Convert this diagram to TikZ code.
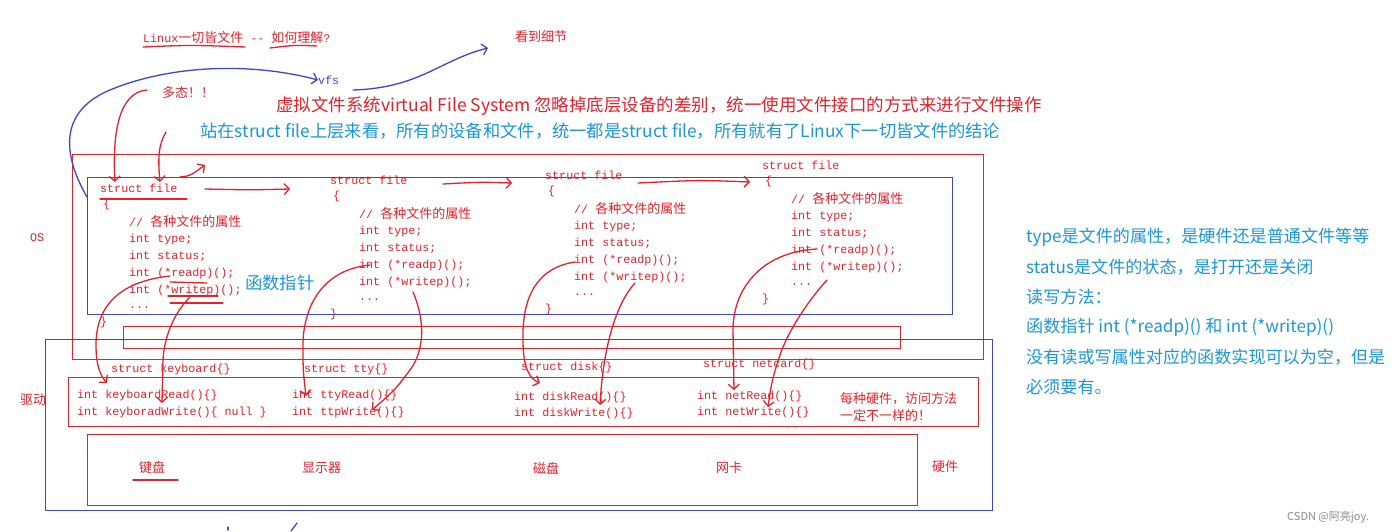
\documentclass[tikz,border=0pt]{standalone}
\usepackage{fontspec}
\newfontfamily\zhfont{Noto Sans CJK SC}
\newfontfamily\codefont{Liberation Mono}
\usetikzlibrary{arrows.meta, calc}
\definecolor{pen}{RGB}{232,32,42}
\definecolor{ink}{RGB}{60,72,200}
\definecolor{note}{RGB}{28,150,218}
\newcommand{\zh}[1]{{\zhfont\fontsize{13}{15}\selectfont #1}}
\tikzset{%
  redpen/.style={draw=pen, line width=1.3pt, line cap=round},
  bluepen/.style={draw=ink, line width=1.3pt, line cap=round},
  barb/.style={-{Straight Barb[length=5pt, width=11pt]}},
  frame/.style={draw=#1, line width=1pt},
  code/.style={font=\codefont\fontsize{11.7}{14}\selectfont, text=pen, anchor=west, inner sep=0pt},
  zhlabel/.style={font=\zhfont\fontsize{13}{15}\selectfont, text=pen, anchor=west, inner sep=0pt},
  remark/.style={font=\zhfont\fontsize{17.3}{20}\selectfont, anchor=west, inner sep=0pt},
}

\begin{document}
\begin{tikzpicture}[x=1pt, y=-1pt]
    \useasboundingbox[fill=white] (0,0) rectangle (1400,532);

    %layers
    \draw[frame=pen] (72,155) rectangle (983,359);
    \draw[frame=ink] (87,177) rectangle (952,314);
    \draw[frame=pen] (123,326) rectangle (900,348);
    \draw[frame=ink] (45,339) rectangle (992,510);
    \draw[frame=pen] (68,377) rectangle (978,426);
    \draw[frame=pen] (87,434) rectangle (917,505);

    \node[code] (os) at (30,238) {OS};
    \node[zhlabel] (drv) at (20,400) {驱动};
    \node[zhlabel] (hw) at (932,467) {硬件};

    %headings
    \node[code] (title) at (143,38) {Linux\zh{一切皆文件} -{}- \zh{如何理解}?};
    \node[zhlabel] (detail) at (515,37) {看到细节};
    \node[code, text=ink] (vfs) at (318,80) {vfs};
    \node[zhlabel] (poly) at (162,93) {多态！！};
    \node[remark, text=pen, font=\zhfont\fontsize{17.5}{20}\selectfont] (vfsnote) at (276,106) {虚拟文件系统virtual File System 忽略掉底层设备的差别，统一使用文件接口的方式来进行文件操作};
    \node[remark, text=note] (topnote) at (200,131) {站在struct file上层来看，所有的设备和文件，统一都是struct file，所有就有了Linux下一切皆文件的结论};
    \node[remark, text=note] (fptr) at (245,283) {函数指针};

    %side notes
    \foreach \t [count=\i] in {type是文件的属性，是硬件还是普通文件等等, status是文件的状态，是打开还是关闭, 读写方法：, 函数指针 int (*readp)() 和 int (*writep)(), 没有读或写属性对应的函数实现可以为空，但是, 必须要有。}
        \node[remark, text=note, font=\zhfont\fontsize{17.1}{20}\selectfont] (side\i) at (1026,207+30*\i) {\t};

    %struct file blocks
    \foreach \x/\y [count=\i] in {100/188, 330/180, 545/175, 762/165}{
        \node[code] (sf\i) at (\x,\y) {struct file};
        \node[code] (lb\i) at (\x+3,\y+16) {\{};
        \node[code] (cm\i) at (\x+29,\y+34) {// \zh{各种文件的属性}};
        \node[code] (ty\i) at (\x+29,\y+51) {int type;};
        \node[code] (st\i) at (\x+29,\y+68) {int status;};
        \node[code] (rd\i) at (\x+29,\y+85) {int (*readp)();};
        \node[code] (wr\i) at (\x+29,\y+102) {int (*writep)();};
        \node[code] (dt\i) at (\x+29,\y+120) {...};
        \node[code] (rb\i) at (\x,\y+134) {\}};
    }

    %drivers
    \node[code] (kb) at (111,369) {struct keyboard\{\}};
    \node[code] (tty) at (304,369) {struct tty\{\}};
    \node[code] (disk) at (521,367) {struct disk\{\}};
    \node[code] (net) at (703,364) {struct netcard\{\}};
    \node[code] (kbr) at (77,395) {int keyboardRead()\{\}};
    \node[code] (kbw) at (77,412) {int keyboradWrite()\{ null \}};
    \node[code] (ttr) at (292,395) {int ttyRead()\{\}};
    \node[code] (ttw) at (292,412) {int ttpWrite()\{\}};
    \node[code] (dkr) at (514,397) {int diskRead()\{\}};
    \node[code] (dkw) at (514,413) {int diskWrite()\{\}};
    \node[code] (ntr) at (697,396) {int netRead()\{\}};
    \node[code] (ntw) at (697,412) {int netWrite()\{\}};
    \node[zhlabel] (diff1) at (840,399) {每种硬件，访问方法};
    \node[zhlabel] (diff2) at (840,416) {一定不一样的！};

    %hardware
    \node[zhlabel] (kbd) at (139,468) {键盘};
    \node[zhlabel] (mon) at (302,468) {显示器};
    \node[zhlabel] (dsk) at (533,468) {磁盘};
    \node[zhlabel] (nic) at (716,468) {网卡};

    \node[font=\zhfont\fontsize{11}{13}\selectfont, text=black!45, anchor=west, inner sep=0pt] (mark) at (1287,517) {CSDN @阿亮joy.};

    %underlines
    \draw[redpen] (143,47) .. controls (190,45) .. (245,47);
    \draw[redpen] (270,48) .. controls (295,45) .. (317,46);
    \draw[redpen] (100,199) -- (187,199);
    \draw[redpen] (170,282) -- (207,283);
    \draw[redpen] (168,296) -- (218,296);
    \draw[redpen] (170,303) -- (223,303);
    \draw[redpen] (133,480) -- (178,480);

    %blue strokes
    \coordinate (V0) at (87,197);
    \coordinate (V1) at (353,90);
    \coordinate (D0) at (488,48);
    \draw[bluepen, barb] (V0) .. controls (60,150) and (62,110) .. (110,90) .. controls (170,65) and (250,62) .. (vfs.west);
    \draw[bluepen, barb] (V1) .. controls (420,88) and (440,60) .. (D0);

    %polymorphism strokes
    \coordinate (P0) at (147,90);
    \coordinate (P1) at (166,132);
    \coordinate (P2) at (180,177);
    \draw[redpen, barb] (P0) .. controls (120,92) and (112,130) .. (115,182);
    \draw[redpen, barb] (P1) .. controls (158,145) and (158,160) .. (160,182);
    \draw[redpen, barb] (P2) .. controls (190,176) .. (205,165);

    %chain of struct file
    \draw[redpen, barb] (205,189) .. controls (250,190) .. (290,189);
    \draw[redpen, barb] (443,184) .. controls (480,182) .. (512,183);
    \draw[redpen, barb] (638,183) .. controls (700,180) .. (750,182);

    %readp / writep to the drivers
    \draw[redpen, barb] (170,276) .. controls (115,282) and (96,310) .. (96,345) .. controls (96,365) and (100,375) .. (107,383);
    \draw[redpen, barb] (190,297) .. controls (172,315) and (164,340) .. (163,360) .. controls (162,380) .. (162,403);
    \draw[redpen, barb] (370,265) .. controls (320,270) and (303,310) .. (303,345) .. controls (303,370) .. (306,396);
    \draw[redpen, barb] (413,292) .. controls (425,320) and (425,350) .. (410,370) .. controls (395,390) .. (372,410);
    \draw[redpen, barb] (575,262) .. controls (535,268) and (522,300) .. (523,340) .. controls (523,365) and (528,378) .. (540,383);
    \draw[redpen, barb] (635,283) .. controls (615,305) and (603,350) .. (600,405);
    \draw[redpen, barb] (817,249) .. controls (760,252) and (733,290) .. (733,330) .. controls (733,360) .. (734,390);
    \draw[redpen, barb] (827,280) .. controls (800,310) and (785,340) .. (780,355) .. controls (772,380) .. (768,407);

    %stray marks
    \draw[bluepen] (228,527) -- (228,530);
    \draw[bluepen] (297,523) -- (291,531);

\end{tikzpicture}
\end{document}
